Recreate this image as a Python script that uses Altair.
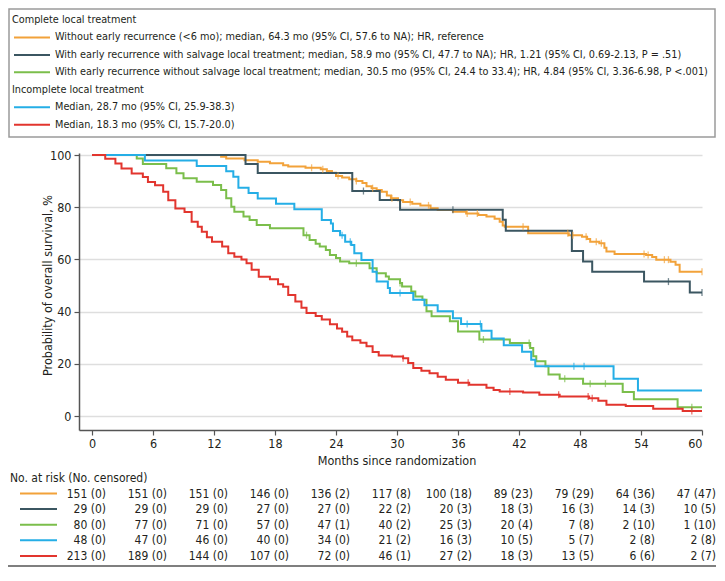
import altair as alt
import pandas as pd

FONT = "DejaVu Sans Condensed, Lato, sans-serif"

# ---------------- data ----------------
groups = ["a", "b", "c", "d", "e"]
colors = ["#F2A23A", "#3B5661", "#7BBE4B", "#25AEE6", "#E2352E"]

legend_labels = [
    "Without early recurrence (<6 mo); median, 64.3 mo (95% CI, 57.6 to NA); HR, reference",
    "With early recurrence with salvage local treatment; median, 58.9 mo (95% CI, 47.7 to NA); HR, 1.21 (95% CI, 0.69-2.13, P = .51)",
    "With early recurrence without salvage local treatment; median, 30.5 mo (95% CI, 24.4 to 33.4); HR, 4.84 (95% CI, 3.36-6.98, P <.001)",
    "Median, 28.7 mo (95% CI, 25.9-38.3)",
    "Median, 18.3 mo (95% CI, 15.7-20.0)",
]
legend_headers = ["Complete local treatment", "Incomplete local treatment"]

# Kaplan-Meier steps (month, survival %) -- step-after
orange_t = [0, 12.7, 13.2, 15.0, 16.3, 17.5, 18.8, 19.3, 21.0, 22.5, 23.1, 23.6, 24.0, 24.6, 25.3, 26.0, 26.6, 27.0, 27.5, 28.0, 28.5, 29.0, 29.4, 30.1, 30.6, 31.5, 32.3, 33.3, 34.0, 35.5, 36.8, 38.0, 38.8, 39.6, 40.1, 40.4, 40.6, 42.9, 46.9, 48.2, 48.7, 49.0, 49.9, 50.4, 50.6, 51.4, 54.5, 55.1, 55.5, 56.9, 57.4, 57.8, 60]
orange_s = [100, 99.3, 98.7, 98.0, 97.4, 96.8, 96.1, 95.6, 95.1, 94.5, 93.9, 93.2, 92.0, 91.4, 90.7, 90.0, 89.3, 88.0, 87.3, 86.6, 85.9, 84.5, 83.4, 82.7, 82.0, 81.3, 80.7, 79.6, 78.9, 78.3, 77.6, 77.0, 76.4, 75.6, 74.4, 73.0, 72.5, 70.0, 69.3, 68.7, 67.8, 66.8, 66.2, 64.5, 63.0, 62.1, 61.7, 60.9, 59.9, 59.1, 58.0, 55.3, 55.3]
orange_ct = [21.6, 22.7, 24.2, 26.0, 27.6, 29.5, 31.3, 33.1, 36.9, 37.9, 42.4, 46.8, 47.3, 48.6, 49.6, 50.1, 54.3, 54.7, 56.3, 56.7, 60]

dark_t = [0, 15.1, 16.3, 25.6, 28.3, 30.3, 40.4, 40.7, 47.2, 48.3, 49.2, 54.3, 58.8, 60]
dark_s = [100, 96.6, 93.1, 86.2, 82.8, 79.0, 75.2, 71.0, 63.2, 59.2, 55.3, 51.5, 47.3, 47.3]
dark_ct = [26.7, 35.5, 56.7, 60]

green_t = [0, 4.4, 5.0, 7.3, 8.3, 9.0, 10.3, 11.9, 12.7, 13.2, 13.7, 14.0, 14.9, 15.5, 16.2, 17.5, 20.8, 21.4, 22.0, 22.4, 23.0, 23.4, 24.0, 24.4, 25.3, 27.3, 28.0, 28.9, 29.2, 30.3, 30.5, 31.4, 31.8, 32.5, 32.9, 33.4, 35.2, 36.0, 38.1, 41.1, 43.1, 43.4, 43.7, 44.6, 44.9, 46.0, 48.3, 52.2, 53.3, 57.6, 60]
green_s = [100, 98.7, 96.6, 94.9, 93.0, 91.1, 89.8, 88.5, 86.6, 83.4, 80.2, 78.3, 76.4, 75.1, 73.2, 71.9, 69.3, 67.4, 66.0, 64.9, 63.6, 61.7, 60.5, 59.2, 58.5, 56.6, 54.7, 53.5, 52.4, 51.0, 49.6, 47.7, 45.8, 44.5, 40.1, 38.2, 36.3, 32.4, 29.3, 28.0, 26.1, 22.9, 21.0, 19.1, 15.9, 14.3, 12.4, 9.2, 6.4, 3.4, 3.4]
green_ct = [21.1, 26.0, 30.3, 38.5, 43.0, 46.5, 49.0, 50.5, 59.0]

blue_t = [0, 5.2, 10.3, 13.2, 13.9, 14.4, 15.4, 16.3, 18.1, 19.9, 22.6, 23.5, 23.7, 24.4, 24.9, 25.5, 25.8, 26.5, 27.6, 28.0, 29.1, 29.3, 31.6, 32.7, 34.0, 35.5, 36.3, 38.3, 39.3, 40.5, 42.3, 43.2, 43.6, 51.3, 53.7, 60]
blue_s = [100, 97.9, 95.8, 93.8, 91.7, 87.5, 85.4, 83.3, 81.3, 79.2, 75.1, 73.8, 70.9, 69.3, 66.8, 65.5, 62.4, 59.8, 55.3, 51.5, 49.0, 47.1, 44.5, 42.4, 40.1, 37.5, 35.3, 32.7, 29.7, 27.1, 24.6, 21.6, 19.1, 14.3, 9.8, 9.8]
blue_ct = [24.6, 25.4, 30.3, 36.9, 38.2, 47.4, 48.4]

red_t = [0, 1.3, 2.3, 2.9, 3.9, 5.0, 5.5, 6.2, 7.0, 7.5, 8.2, 9.1, 9.8, 10.4, 10.8, 11.3, 11.8, 12.8, 13.4, 14.0, 14.7, 15.2, 15.7, 16.4, 17.5, 18.3, 18.8, 19.3, 20.0, 20.6, 21.1, 22.0, 22.6, 23.4, 24.1, 24.6, 25.1, 25.6, 26.4, 27.0, 27.6, 28.2, 29.5, 30.6, 31.1, 31.6, 32.4, 33.2, 34.0, 34.8, 36.0, 37.1, 38.8, 39.5, 40.1, 42.4, 44.0, 46.0, 48.9, 49.8, 50.6, 52.5, 55.2, 58.1, 60]
red_s = [100, 98.6, 96.7, 94.8, 92.9, 91.6, 89.7, 88.4, 85.9, 82.7, 79.5, 78.2, 74.4, 72.5, 70.6, 68.5, 66.8, 64.9, 62.4, 61.0, 60.0, 58.5, 56.0, 53.4, 52.4, 50.5, 49.5, 46.4, 43.9, 41.5, 39.5, 38.3, 37.0, 35.2, 33.5, 32.3, 30.5, 29.0, 28.1, 26.7, 24.5, 23.2, 22.8, 22.1, 20.3, 18.4, 17.3, 16.4, 15.0, 13.9, 12.7, 12.0, 10.8, 10.0, 9.4, 9.0, 8.1, 7.5, 6.8, 5.8, 4.3, 3.8, 2.8, 1.9, 1.9]
red_ct = [30.6, 37.0, 41.1, 45.9, 48.8, 49.2, 59.0]

risk_months = [0, 6, 12, 18, 24, 30, 36, 42, 48, 54, 60]
orange_risk = [151, 151, 151, 146, 136, 117, 100, 89, 79, 64, 47]
orange_cens = [0, 0, 0, 0, 2, 8, 18, 23, 29, 36, 47]
dark_risk = [29, 29, 29, 27, 27, 22, 20, 18, 16, 14, 10]
dark_cens = [0, 0, 0, 0, 0, 2, 3, 3, 3, 3, 5]
green_risk = [80, 77, 71, 57, 47, 40, 25, 20, 7, 2, 1]
green_cens = [0, 0, 0, 0, 1, 2, 3, 4, 8, 10, 10]
blue_risk = [48, 47, 46, 40, 34, 21, 16, 10, 5, 2, 2]
blue_cens = [0, 0, 0, 0, 0, 2, 3, 5, 7, 8, 8]
red_risk = [213, 189, 144, 107, 72, 46, 27, 18, 13, 6, 2]
red_cens = [0, 0, 0, 0, 0, 1, 2, 3, 5, 6, 7]

# ---------------- tables ----------------
steps = [(orange_t, orange_s), (dark_t, dark_s), (green_t, green_s), (blue_t, blue_s), (red_t, red_s)]
cens = [orange_ct, dark_ct, green_ct, blue_ct, red_ct]
risks = [(orange_risk, orange_cens), (dark_risk, dark_cens), (green_risk, green_cens),
         (blue_risk, blue_cens), (red_risk, red_cens)]

rows, crows, rrows = [], [], []
for g, (ts, ss), cts, (rk, cn) in zip(groups, steps, cens, risks):
    for t, s in zip(ts, ss):
        rows.append({"g": g, "t": t, "s": s})
    for ct in cts:
        lvl = [s for t, s in zip(ts, ss) if t <= ct][-1]
        crows.append({"g": g, "t": ct, "s": lvl})
    for m, r, c in zip(risk_months, rk, cn):
        rrows.append({"g": g, "t": m, "label": f"{r} ({c})", "row": groups.index(g)})

curves = pd.DataFrame(rows)
censors = pd.DataFrame(crows)
risk = pd.DataFrame(rrows)
risk["py"] = 340.5 + risk["row"] * 15.6

leg_rows = [
    {"text": legend_headers[0], "kind": "h", "i": 0, "g": ""},
    {"text": legend_labels[0], "kind": "s", "i": 1, "g": "a"},
    {"text": legend_labels[1], "kind": "s", "i": 2, "g": "b"},
    {"text": legend_labels[2], "kind": "s", "i": 3, "g": "c"},
    {"text": legend_headers[1], "kind": "h", "i": 4, "g": ""},
    {"text": legend_labels[3], "kind": "s", "i": 5, "g": "d"},
    {"text": legend_labels[4], "kind": "s", "i": 6, "g": "e"},
]
leg = pd.DataFrame(leg_rows)
leg["py"] = -133 + leg["i"] * 17.45
leg["px"] = leg["kind"].map({"h": -67, "s": -24})
leg["x1"] = -65
leg["x2"] = -29
leg_sw = leg[leg["kind"] == "s"]

risk_sw = pd.DataFrame({"g": groups, "row": range(5)})
risk_sw["py"] = 340.5 + risk_sw["row"] * 15.6
risk_sw["x1"] = -59
risk_sw["x2"] = -22

one = pd.DataFrame({"k": [0]})

xscale = alt.Scale(domain=[-1.28, 60], nice=False, zero=False)
yscale = alt.Scale(domain=[-5.36, 100.77], nice=False, zero=False)
cscale = alt.Scale(domain=groups, range=colors)

x_enc = alt.X("t:Q", scale=xscale,
              axis=alt.Axis(values=risk_months, title=None, grid=False, tickSize=5,
                            labelPadding=2, labelFontSize=12.5))
y_enc = alt.Y("s:Q", scale=yscale,
              axis=alt.Axis(values=[0, 20, 40, 60, 80, 100], title=None, grid=True,
                            tickSize=5, labelPadding=3, labelFontSize=12.5,
                            gridColor="#dedede", gridWidth=1.5))

lines = alt.Chart(curves).mark_line(interpolate="step-after", strokeWidth=2, clip=True).encode(
    x=x_enc, y=y_enc,
    color=alt.Color("g:N", scale=cscale, legend=None),
    order="t:Q",
)

ticks = alt.Chart(censors).mark_tick(orient="vertical", size=7, thickness=1.3).encode(
    x=alt.X("t:Q", scale=xscale), y=alt.Y("s:Q", scale=yscale),
    color=alt.Color("g:N", scale=cscale, legend=None),
)

risk_text = alt.Chart(risk).mark_text(align="right", baseline="middle", dx=14, fontSize=12,
                                      font=FONT, color="#231f20").encode(
    x=alt.X("t:Q", scale=xscale), y=alt.Y("py:Q", scale=None), text="label:N"
)

risk_swatch = alt.Chart(risk_sw).mark_rule(strokeWidth=2).encode(
    x=alt.X("x1:Q", scale=None), x2="x2:Q", y=alt.Y("py:Q", scale=None),
    color=alt.Color("g:N", scale=cscale, legend=None),
)

risk_head = alt.Chart(one).mark_text(align="left", baseline="middle", fontSize=12, font=FONT,
                                     color="#231f20").encode(
    x=alt.value(-69), y=alt.value(324.7), text=alt.value("No. at risk (No. censored)")
)

x_title = alt.Chart(one).mark_text(align="center", baseline="middle", fontSize=12.5, font=FONT,
                                   color="#231f20").encode(
    x=alt.value(318), y=alt.value(308), text=alt.value("Months since randomization")
)

y_title = alt.Chart(one).mark_text(align="center", baseline="middle", angle=270, fontSize=12.5,
                                   font=FONT, color="#231f20").encode(
    x=alt.value(-31), y=alt.value(132.5), text=alt.value("Probability of overall survival, %")
)

box = alt.Chart(one).mark_rect(fillOpacity=0, stroke="#9a9a9a", strokeWidth=1.5).encode(
    x=alt.value(-70), x2=alt.value(636), y=alt.value(-144), y2=alt.value(-16)
)

leg_text = alt.Chart(leg).mark_text(align="left", baseline="middle", fontSize=10.8, font=FONT,
                                    color="#231f20").encode(
    x=alt.X("px:Q", scale=None), y=alt.Y("py:Q", scale=None), text="text:N"
)

leg_swatch = alt.Chart(leg_sw).mark_rule(strokeWidth=2).encode(
    x=alt.X("x1:Q", scale=None), x2="x2:Q", y=alt.Y("py:Q", scale=None),
    color=alt.Color("g:N", scale=cscale, legend=None),
)

bottom = alt.Chart(one).mark_rule(strokeWidth=1.5, color="#555555").encode(
    x=alt.value(-72), x2=alt.value(640), y=alt.value(413)
)

chart = alt.layer(
    lines, ticks, risk_text, risk_swatch, risk_head, x_title, y_title,
    box, leg_text, leg_swatch, bottom
).properties(
    width=623, height=277,
    autosize=alt.AutoSizeParams(type="none"),
    padding={"left": 71, "top": 145, "right": 14, "bottom": 138},
).configure_view(stroke=None).configure_axis(
    domainColor="#555555", domainWidth=1.5, tickColor="#555555", tickWidth=1.2,
    labelColor="#231f20", labelFont=FONT,
)

chart.save("out.html", embed_options={"renderer": "svg", "actions": False})
